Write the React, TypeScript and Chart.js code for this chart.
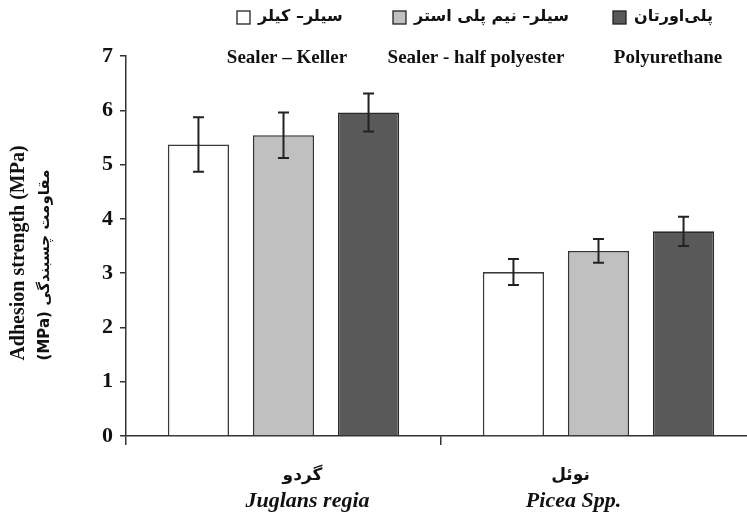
import React, { useEffect, useRef } from "react";
import { Chart, registerables } from "chart.js";

Chart.register(...registerables);

const categoriesFa = ["گردو", "نوئل"];
const categoriesEn = ["Juglans regia", "Picea Spp."];
const seriesFa = ["سیلر– کیلر", "سیلر– نیم پلی استر", "پلی‌اورتان"];
const seriesEn = ["Sealer – Keller", "Sealer - half polyester", "Polyurethane"];
const sealerKeller = [5.37, 3.02];
const sealerHalfPolyester = [5.54, 3.41];
const polyurethane = [5.96, 3.77];
const errKeller = [0.5, 0.24];
const errHalfPolyester = [0.42, 0.22];
const errPolyurethane = [0.35, 0.27];
const yTicks = [0, 1, 2, 3, 4, 5, 6, 7];
const yTitleEn = "Adhesion strength (MPa)";
const yTitleFa = "(MPa) مقاومت چسبندگی";

const fills = ["#ffffff", "#c0c0c0", "#595959"];
const serif = "'Liberation Serif', 'DejaVu Serif', serif";
const fa = "'DejaVu Sans', 'Noto Sans', sans-serif";

export default function App() {
  const ref = useRef<HTMLCanvasElement | null>(null);

  useEffect(() => {
    const canvas = ref.current;
    if (!canvas) return;
    const errors = [errKeller, errHalfPolyester, errPolyurethane];

    const extras = {
      id: "extras",
      afterDatasetsDraw(chart: any) {
        const ctx = chart.ctx;
        const ys = chart.scales.y;
        ctx.save();
        ctx.strokeStyle = "#222";
        ctx.lineWidth = 2;
        chart.data.datasets.forEach((ds: any, di: number) => {
          const meta = chart.getDatasetMeta(di);
          meta.data.forEach((el: any, i: number) => {
            const v = ds.data[i];
            const e = errors[di][i];
            const top = ys.getPixelForValue(v + e);
            const bot = ys.getPixelForValue(v - e);
            const x = el.x;
            ctx.beginPath();
            ctx.moveTo(x, top);
            ctx.lineTo(x, bot);
            ctx.moveTo(x - 5.5, top);
            ctx.lineTo(x + 5.5, top);
            ctx.moveTo(x - 5.5, bot);
            ctx.lineTo(x + 5.5, bot);
            ctx.stroke();
          });
        });
        ctx.restore();
      },
      afterDraw(chart: any) {
        const ctx = chart.ctx;
        const xs = chart.scales.x;
        ctx.save();
        ctx.fillStyle = "#111";
        // legend
        const boxes = [237, 393, 613];
        ctx.textBaseline = "middle";
        seriesFa.forEach((t, i) => {
          ctx.fillStyle = fills[i];
          ctx.strokeStyle = "#222";
          ctx.lineWidth = 1.3;
          ctx.fillRect(boxes[i], 11, 13, 13);
          ctx.strokeRect(boxes[i], 11, 13, 13);
          ctx.fillStyle = "#111";
          ctx.font = `bold 16px ${fa}`;
          ctx.textAlign = "left";
          ctx.fillText(t, boxes[i] + 21, 17);
        });
        const enX = [287, 476, 668];
        ctx.font = `bold 19px ${serif}`;
        ctx.textAlign = "center";
        seriesEn.forEach((t, i) => ctx.fillText(t, enX[i], 58));

        // x category labels
        const faShift = [19, -28];
        const enShift = [24, -25];
        categoriesFa.forEach((t, i) => {
          const x = xs.getPixelForValue(i);
          ctx.font = `bold 17px ${fa}`;
          ctx.fillText(t, x + faShift[i], 476);
          ctx.font = `italic bold 22px ${serif}`;
          ctx.fillText(categoriesEn[i], x + enShift[i], 501);
        });

        // y title
        ctx.translate(19, 253);
        ctx.rotate(-Math.PI / 2);
        ctx.font = `bold 20px ${serif}`;
        ctx.fillText(yTitleEn, 0, 0);
        ctx.font = `bold 15px ${fa}`;
        ctx.fillText(yTitleFa, -12, 26);
        ctx.restore();
      },
    };

    const chart = new Chart(canvas, {
      type: "bar",
      data: {
        labels: categoriesEn,
        datasets: [
          { label: seriesEn[0], data: sealerKeller, backgroundColor: fills[0], borderColor: "#3a3a3a", borderWidth: 1.6 },
          { label: seriesEn[1], data: sealerHalfPolyester, backgroundColor: fills[1], borderColor: "#333", borderWidth: 1.6 },
          { label: seriesEn[2], data: polyurethane, backgroundColor: fills[2], borderColor: "#2a2a2a", borderWidth: 1.6 },
        ],
      },
      options: {
        responsive: false,
        animation: false,
        devicePixelRatio: 1,
        layout: { padding: { top: 56, right: 4, left: 0, bottom: 0 } },
        categoryPercentage: 0.81,
        barPercentage: 0.72,
        plugins: { legend: { display: false }, tooltip: { enabled: false }, title: { display: false } },
        scales: {
          x: {
            ticks: { display: false },
            grid: { drawOnChartArea: false, tickLength: 9, color: "#333", lineWidth: 1.5, offset: true },
            border: { display: true, color: "#333", width: 1.5 },
            afterFit: (s: any) => { s.height = 83; },
          },
          y: {
            min: 0,
            max: 7,
            afterBuildTicks: (s: any) => { s.ticks = yTicks.map((v) => ({ value: v })); },
            ticks: {
              color: "#111",
              padding: 7,
              font: { family: serif, size: 22, weight: "bold" },
            },
            grid: { drawOnChartArea: false, tickLength: 6, color: "#333", lineWidth: 1.5 },
            border: { display: true, color: "#333", width: 1.5 },
            afterFit: (s: any) => { s.width = 126; },
          },
        },
      },
      plugins: [extras],
    });
    return () => chart.destroy();
  }, []);

  return (
    <div style={{ position: "fixed", left: 0, top: 0, width: 747, height: 519, overflow: "hidden", background: "#fff" }}>
      <canvas ref={ref} width={760} height={519} style={{ display: "block" }} />
    </div>
  );
}
